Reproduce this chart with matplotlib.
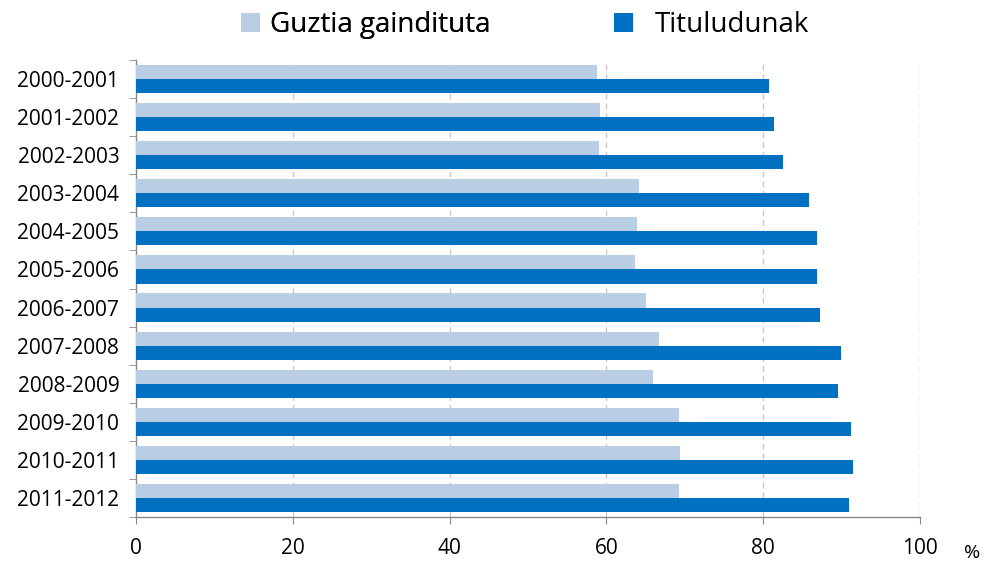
import matplotlib
matplotlib.use("Agg")
import matplotlib.pyplot as plt
from matplotlib.patches import Patch
import numpy as np

categories = ["2000-2001", "2001-2002", "2002-2003", "2003-2004", "2004-2005", "2005-2006",
              "2006-2007", "2007-2008", "2008-2009", "2009-2010", "2010-2011", "2011-2012"]
guztia = [58.8, 59.2, 59.0, 64.2, 63.9, 63.7, 65.0, 66.7, 66.0, 69.2, 69.4, 69.2]
tituludunak = [80.7, 81.4, 82.5, 85.9, 86.9, 86.8, 87.3, 89.9, 89.6, 91.2, 91.4, 90.9]
xticks = [0, 20, 40, 60, 80, 100]

plt.rcParams['font.family'] = ['Open Sans', 'DejaVu Sans']

fig = plt.figure(figsize=(9.86, 5.62), dpi=100)
ax = fig.add_axes([136/986, 1-517/562, (920-136)/986, (517-60)/562])

y = np.arange(len(categories))
h = 0.37
b1 = ax.barh(y - h/2, guztia, height=h, color="#B9CDE5", label="Guztia gaindituta", zorder=3)
b2 = ax.barh(y + h/2, tituludunak, height=h, color="#0070C0", label="Tituludunak", zorder=3)

ax.set_ylim(len(categories) - 0.5, -0.5)
ax.set_xlim(0, 100)
ax.set_xticks(xticks)
ax.set_xticklabels([str(v) for v in xticks], fontsize=15)
ax.set_yticks(y)
ax.set_yticklabels(categories, fontsize=15)
ax.tick_params(axis='y', length=0, pad=12)
ax.set_yticks(np.arange(len(categories) + 1) - 0.5, minor=True)
ax.tick_params(axis='y', which='minor', length=5, color="#888888")
ax.tick_params(axis='x', length=5, color="#888888", pad=10)

for v in xticks[1:]:
    ax.axvline(v, color="#C8C8C8", linestyle=(0, (4, 3)), linewidth=1, zorder=1)

for s in ["top", "right"]:
    ax.spines[s].set_visible(False)
for s in ["left", "bottom"]:
    ax.spines[s].set_color("#888888")
    ax.spines[s].set_linewidth(1)

fig.text(972/986, 1-553/562, "%", fontsize=14, ha="center", va="center")

common = dict(frameon=False, fontsize=20, handlelength=0.7, handleheight=0.7,
              borderpad=0, borderaxespad=0, loc="center left")
leg1 = fig.legend(handles=[b1], labels=["Guztia gaindituta"], bbox_to_anchor=(241/986, 1-25/562),
                  handletextpad=0.35, **common)
fig.add_artist(leg1)
leg2 = fig.legend(handles=[b2], labels=["Tituludunak"], bbox_to_anchor=(614/986, 1-25/562),
                  handletextpad=0.75, **common)

fig.savefig("out.png", dpi=100)
